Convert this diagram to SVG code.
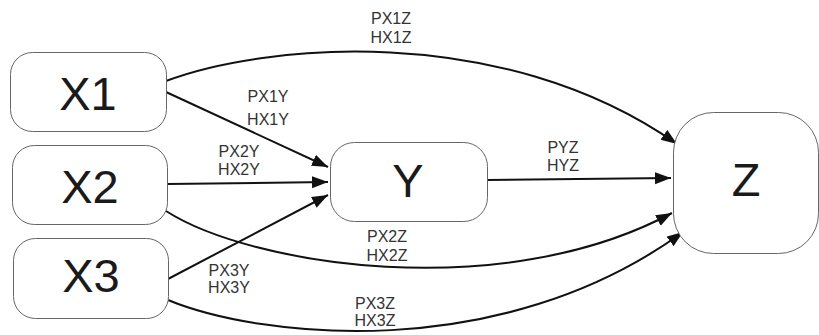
<svg xmlns="http://www.w3.org/2000/svg" width="819" height="335" viewBox="0 0 819 335">
  <defs>
    <marker id="arrow" markerUnits="userSpaceOnUse" markerWidth="17" markerHeight="13" refX="16" refY="6" orient="auto">
      <path d="M0,0 L16,6 L0,12 z" fill="#111"/>
    </marker>
    <style>
      .box { fill: #fff; stroke: #666; stroke-width: 1; }
      .name { font-family: "Liberation Sans", Arial, sans-serif; font-size: 47px; fill: #1a1a1a; text-anchor: middle; }
      .lbl { font-family: "Liberation Sans", Arial, sans-serif; font-size: 16px; fill: #333; text-anchor: middle; }
      .edge { fill: none; stroke: #111; stroke-width: 2; marker-end: url(#arrow); }
    </style>
  </defs>
  <rect width="819" height="335" fill="#fff"/>

  <!-- connectors -->
  <g id="connectors">
    <path class="edge" d="M166,81 C260,45 500,20 677,144"/>
    <path class="edge" d="M166,92 L328,167"/>
    <path class="edge" d="M167,184 L328,182"/>
    <path class="edge" d="M168,279 L328,195"/>
    <path class="edge" d="M487,180 L671,178"/>
    <path class="edge" d="M166,211 C250,265 500,305 672,213"/>
    <path class="edge" d="M168,300 C260,338 500,365 683,232"/>
  </g>

  <!-- edge labels -->
  <g id="labels">
    <text class="lbl" x="391" y="24">PX1Z</text>
    <text class="lbl" x="391" y="43">HX1Z</text>
    <text class="lbl" x="268" y="102">PX1Y</text>
    <text class="lbl" x="268" y="125">HX1Y</text>
    <text class="lbl" x="239" y="157">PX2Y</text>
    <text class="lbl" x="239" y="175">HX2Y</text>
    <text class="lbl" x="563" y="153">PYZ</text>
    <text class="lbl" x="563" y="171">HYZ</text>
    <text class="lbl" x="387" y="242">PX2Z</text>
    <text class="lbl" x="387" y="261">HX2Z</text>
    <text class="lbl" x="229" y="276">PX3Y</text>
    <text class="lbl" x="229" y="293">HX3Y</text>
    <text class="lbl" x="375" y="309">PX3Z</text>
    <text class="lbl" x="375" y="326">HX3Z</text>
  </g>

  <!-- nodes -->
  <g id="X1">
    <rect class="box" x="10.5" y="52.5" width="156" height="79" rx="22"/>
    <text class="name" x="88" y="110">X1</text>
  </g>
  <g id="X2">
    <rect class="box" x="12.5" y="145.5" width="155" height="79" rx="22"/>
    <text class="name" x="90" y="203">X2</text>
  </g>
  <g id="X3">
    <rect class="box" x="13.5" y="238.5" width="155" height="80" rx="22"/>
    <text class="name" x="91" y="292">X3</text>
  </g>
  <g id="Y">
    <rect class="box" x="330.5" y="142.5" width="157" height="79" rx="24"/>
    <text class="name" x="408" y="197">Y</text>
  </g>
  <g id="Z">
    <rect class="box" x="673.5" y="112.5" width="145" height="141" rx="40"/>
    <text class="name" x="746" y="196">Z</text>
  </g>
</svg>
